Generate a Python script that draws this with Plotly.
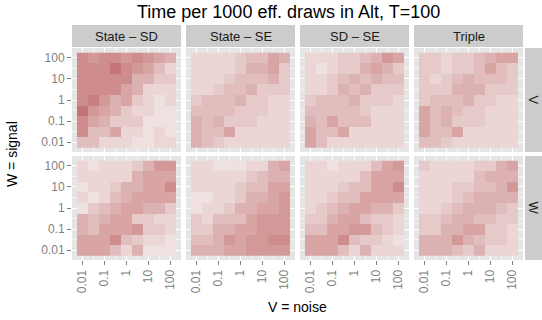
import plotly.graph_objects as go

# ---- data (rows: W = 100 at top -> 0.01 at bottom; cols: V = 0.01 -> 100) ----
grid_vals = [-2, -1.5, -1, -0.5, 0, 0.5, 1, 1.5, 2]
tick_vals = [-2, -1, 0, 1, 2]
tick_text = ["0.01", "0.1", "1", "10", "100"]
col_labels = ["State \u2013 SD", "State \u2013 SE", "SD \u2013 SE", "Triple"]
row_labels = ["V", "W"]

V_STATE_SD = [
    [7, 6, 7, 7, 6, 7, 6, 5, 4],
    [7, 7, 7, 9, 7, 6, 5, 3, 1],
    [7, 7, 7, 7, 7, 4, 4, 2, 2],
    [7, 7, 7, 7, 5, 4, 1, 1, 1],
    [7, 8, 6, 4, 5, 2, 1, 0, 1],
    [9, 6, 5, 4, 2, 1, 1, 0, 0],
    [7, 5, 4, 2, 2, 2, 0, 0, 0],
    [7, 3, 3, 5, 1, 1, 0, 1, 0],
    [3, 3, 1, 1, 1, 0, 0, 1, 1],
]
V_STATE_SE = [
    [1, 1, 1, 1, 2, 3, 3, 5, 4],
    [1, 1, 1, 1, 2, 4, 4, 5, 2],
    [1, 1, 1, 2, 3, 3, 3, 4, 2],
    [1, 1, 2, 3, 3, 4, 2, 2, 2],
    [2, 3, 3, 3, 4, 2, 2, 1, 1],
    [3, 3, 3, 3, 2, 2, 2, 1, 1],
    [4, 3, 4, 2, 2, 2, 1, 1, 1],
    [4, 3, 3, 5, 1, 1, 1, 1, 1],
    [4, 3, 2, 1, 1, 1, 1, 1, 1],
]
V_SD_SE = [
    [1, 1, 1, 2, 2, 3, 4, 6, 5],
    [1, 0, 1, 2, 2, 4, 5, 4, 2],
    [1, 1, 2, 3, 4, 3, 4, 3, 3],
    [1, 1, 2, 4, 3, 4, 2, 2, 2],
    [2, 3, 3, 3, 4, 2, 2, 2, 1],
    [3, 3, 3, 3, 3, 2, 1, 1, 1],
    [4, 3, 5, 3, 3, 3, 1, 1, 1],
    [5, 3, 3, 5, 1, 1, 1, 1, 1],
    [5, 3, 1, 1, 1, 1, 1, 1, 1],
]
V_TRIPLE = [
    [2, 2, 1, 2, 2, 3, 4, 5, 5],
    [2, 2, 1, 2, 2, 3, 5, 3, 2],
    [2, 1, 2, 3, 4, 3, 3, 3, 2],
    [2, 2, 2, 4, 4, 4, 2, 2, 2],
    [2, 3, 3, 3, 4, 2, 2, 1, 1],
    [5, 3, 4, 3, 2, 2, 1, 1, 1],
    [5, 3, 4, 2, 2, 2, 1, 1, 1],
    [5, 3, 3, 5, 1, 1, 1, 1, 1],
    [3, 3, 2, 1, 1, 1, 1, 1, 1],
]
W_STATE_SD = [
    [1, 0, 1, 1, 1, 2, 4, 6, 6],
    [1, 1, 1, 1, 1, 4, 5, 5, 5],
    [0, 1, 1, 2, 4, 4, 5, 5, 7],
    [1, 0, 1, 3, 4, 5, 5, 5, 5],
    [0, 2, 3, 4, 5, 5, 4, 4, 2],
    [4, 3, 4, 5, 5, 2, 2, 1, 1],
    [4, 3, 5, 5, 5, 6, 2, 2, 1],
    [5, 5, 5, 7, 3, 2, 1, 1, 0],
    [5, 5, 5, 3, 1, 4, 0, 0, 0],
]
W_STATE_SE = [
    [1, 1, 0, 0, 0, 1, 1, 4, 5],
    [1, 1, 1, 1, 1, 2, 3, 4, 4],
    [1, 1, 1, 1, 2, 3, 3, 5, 5],
    [0, 0, 1, 1, 2, 4, 4, 5, 6],
    [0, 1, 1, 2, 4, 4, 5, 5, 6],
    [2, 1, 3, 3, 3, 5, 6, 6, 6],
    [2, 2, 4, 4, 5, 5, 6, 6, 6],
    [3, 3, 4, 6, 5, 6, 6, 7, 7],
    [4, 4, 4, 5, 5, 6, 6, 6, 6],
]
W_SD_SE = [
    [1, 1, 0, 1, 1, 1, 3, 5, 6],
    [1, 1, 1, 1, 1, 3, 5, 5, 5],
    [1, 1, 1, 2, 3, 3, 5, 5, 7],
    [1, 1, 2, 3, 3, 5, 5, 5, 5],
    [1, 2, 3, 4, 5, 5, 4, 4, 2],
    [2, 2, 4, 5, 5, 3, 2, 2, 1],
    [3, 3, 5, 5, 6, 6, 3, 2, 1],
    [5, 5, 5, 7, 3, 2, 2, 1, 0],
    [5, 5, 5, 3, 1, 4, 1, 1, 1],
]
W_TRIPLE = [
    [2, 1, 1, 1, 1, 2, 2, 4, 5],
    [1, 1, 1, 1, 1, 3, 4, 4, 4],
    [1, 1, 1, 2, 2, 3, 3, 4, 6],
    [1, 1, 1, 2, 3, 4, 4, 4, 4],
    [1, 1, 2, 3, 4, 4, 4, 3, 2],
    [2, 2, 3, 4, 4, 3, 3, 2, 2],
    [2, 2, 4, 4, 5, 5, 2, 2, 1],
    [4, 4, 4, 6, 4, 3, 2, 2, 1],
    [4, 4, 4, 3, 2, 4, 1, 1, 1],
]

panels = [
    [V_STATE_SD, V_STATE_SE, V_SD_SE, V_TRIPLE],
    [W_STATE_SD, W_STATE_SE, W_SD_SE, W_TRIPLE],
]

# ---- layout geometry (pixels) ----
W, H = 542, 320
col_px = [(72, 181), (186, 295), (300, 409), (414, 523)]
row_px = [(48, 152), (156, 260)]
strip_top = (25, 47)
strip_right = (525, 542)

def px(x):
    return x / W

def py(y):
    return 1 - y / H

fig = go.Figure()
layout = {}
FONT = "Liberation Sans, Arial, sans-serif"
TICKCOL = "#7F7F7F"

for r in range(2):
    for c in range(4):
        idx = r * 4 + c + 1
        sx = "" if idx == 1 else str(idx)
        z = panels[r][c][::-1]
        fig.add_trace(go.Heatmap(
            x=grid_vals, y=grid_vals, z=z,
            coloraxis="coloraxis",
            xaxis="x" + sx, yaxis="y" + sx,
            hoverinfo="skip",
        ))
        common = dict(
            range=[-2.475, 2.475],
            tickvals=tick_vals, ticktext=tick_text,
            showgrid=True, gridcolor="white", gridwidth=1,
            minor=dict(tickvals=[-1.5, -0.5, 0.5, 1.5], showgrid=True,
                       gridcolor="#F5F5F5", gridwidth=0.5),
            zeroline=False, showline=False,
            tickfont=dict(family=FONT, size=12, color=TICKCOL),
            tickcolor=TICKCOL, ticklen=4, tickwidth=1,
            fixedrange=True,
        )
        xa = dict(common)
        xa.update(domain=[px(col_px[c][0]), px(col_px[c][1])], anchor="y" + sx,
                  showticklabels=(r == 1), ticks="outside" if r == 1 else "",
                  tickangle=-90)
        ya = dict(common)
        ya.update(domain=[py(row_px[r][1]), py(row_px[r][0])], anchor="x" + sx,
                  showticklabels=(c == 0), ticks="outside" if c == 0 else "")
        layout["xaxis" + sx] = xa
        layout["yaxis" + sx] = ya

shapes = []
annotations = []
for c in range(4):
    shapes.append(dict(type="rect", xref="paper", yref="paper",
                       x0=px(col_px[c][0]), x1=px(col_px[c][1]),
                       y0=py(strip_top[1]), y1=py(strip_top[0]),
                       fillcolor="#CCCCCC", line=dict(width=0), layer="below"))
    annotations.append(dict(xref="paper", yref="paper",
                            x=px((col_px[c][0] + col_px[c][1]) / 2),
                            y=py((strip_top[0] + strip_top[1]) / 2),
                            text=col_labels[c], showarrow=False,
                            font=dict(family=FONT, size=13, color="#1A1A1A"),
                            xanchor="center", yanchor="middle"))
for r in range(2):
    shapes.append(dict(type="rect", xref="paper", yref="paper",
                       x0=px(strip_right[0]), x1=px(strip_right[1]),
                       y0=py(row_px[r][1]), y1=py(row_px[r][0]),
                       fillcolor="#CCCCCC", line=dict(width=0), layer="below"))
    annotations.append(dict(xref="paper", yref="paper",
                            x=px((strip_right[0] + strip_right[1]) / 2),
                            y=py((row_px[r][0] + row_px[r][1]) / 2),
                            text=row_labels[r], showarrow=False, textangle=90,
                            font=dict(family=FONT, size=13, color="#1A1A1A"),
                            xanchor="center", yanchor="middle"))

# title and axis titles
annotations.append(dict(xref="paper", yref="paper", x=px(288), y=py(12),
                        text="Time per 1000 eff. draws in Alt, T=100", showarrow=False,
                        font=dict(family=FONT, size=18, color="black"),
                        xanchor="center", yanchor="middle"))
annotations.append(dict(xref="paper", yref="paper", x=px(297), y=py(307),
                        text="V = noise", showarrow=False,
                        font=dict(family=FONT, size=14, color="black"),
                        xanchor="center", yanchor="middle"))
annotations.append(dict(xref="paper", yref="paper", x=px(12), y=py(154),
                        text="W = signal", showarrow=False, textangle=-90,
                        font=dict(family=FONT, size=14, color="black"),
                        xanchor="center", yanchor="middle"))

fig.update_layout(
    width=W, height=H,
    margin=dict(l=0, r=0, t=0, b=0),
    paper_bgcolor="white",
    plot_bgcolor="#E5E5E5",
    showlegend=False,
    coloraxis=dict(cmin=0, cmax=9, showscale=False,
                   colorscale=[[0, "#F0E1E1"], [1, "#C47474"]]),
    shapes=shapes,
    annotations=annotations,
    **layout,
)

fig.write_html("out.html")
